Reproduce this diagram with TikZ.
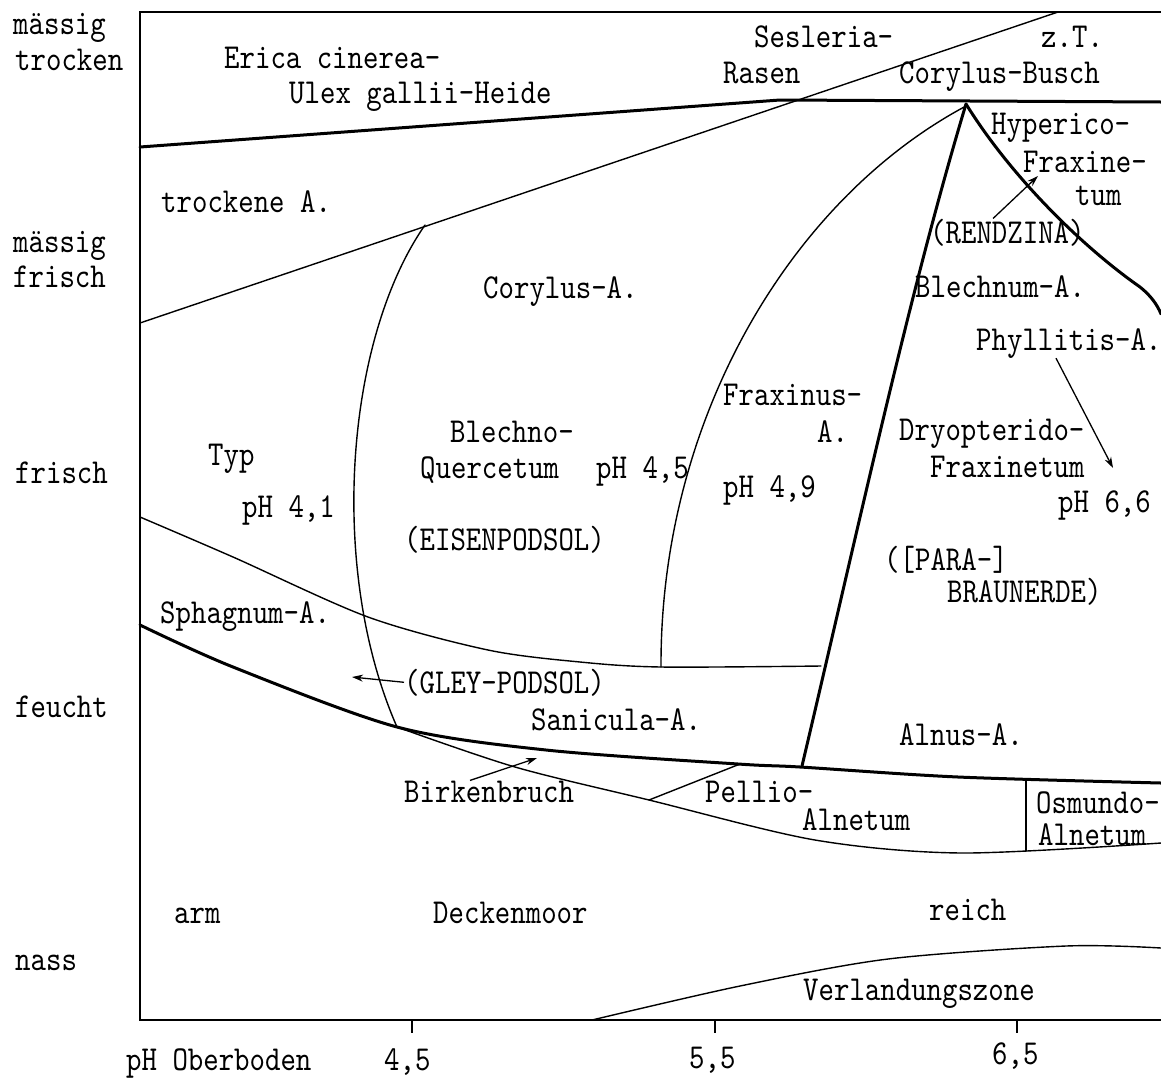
\documentclass[tikz,border=0pt]{standalone}
\usepackage{fontspec}
\newfontfamily\labfont{lmmono10-regular.otf}[FakeStretch=0.84]
\usetikzlibrary{arrows.meta}
\begin{document}
\begin{tikzpicture}[x=1pt,y=-1pt,
  lab/.style={inner sep=0pt,anchor=base west,font=\labfont\fontsize{35}{40}\selectfont},
  frameln/.style={line width=1.5pt},
  thinln/.style={line width=1.4pt,line join=round,line cap=round},
  thickln/.style={line width=3pt,line join=round,line cap=round},
  arr/.style={line width=1.3pt,-{Stealth[length=11pt,width=7pt]}}]
\useasboundingbox (0,0) rectangle (1161,1082);
\fill[white] (0,0) rectangle (1161,1082);

% frame and axis
\draw[frameln] (1161,12) -- (140,12) -- (140,1020) -- (1161,1020);
\draw[frameln] (412,1020) -- (412,1033);
\draw[frameln] (715,1020) -- (715,1033);
\draw[frameln] (1017,1020) -- (1017,1033);

% Erica boundary (thick)
\draw[thickln] (140,147) -- (780,100) -- (1161,102);
% diagonal thin
\draw[thinln] (140,323) -- (1058,12);
% Blechno-Quercetum left boundary
\draw[thinln] (425,225) .. controls (345,340) and (328,570) .. (397,727);
% Fraxinus boundary
\draw[thinln] (966,106) .. controls (790,200) and (660,420) .. (661,667);
% Blechnum boundary (thick)
\draw[thickln] (966,104) .. controls (910,290) and (860,520) .. (802,766);
% Hyperico boundary (thick)
\draw[thickln] (966,104) .. controls (1010,175) and (1080,245) .. (1140,287)
  .. controls (1150,295) and (1157,304) .. (1161,314);
% upper Sphagnum boundary (thin)
\draw[thinln] plot[smooth] coordinates {(140,517) (233,557) (368,617) (488,650) (580,662) (661,667) (821,666)};
% thick lower boundary
\draw[thickln] plot[smooth] coordinates {(140,625) (233,667) (397,727) (546,750) (738,764) (800,767) (958,777) (1161,783)};
% Birkenbruch / Alnetum lower boundary
\draw[thinln] plot[smooth] coordinates {(397,727) (515,767) (649,800) (815,840) (962,853) (1161,843)};
% Pellio divider
\draw[thinln] (649,800) -- (740,764);
% Osmundo divider
\draw[thinln] (1026,781) -- (1026,851);
% Verlandungszone
\draw[thinln] plot[smooth] coordinates {(592,1020) (740,986) (888,959) (1066,946) (1161,948)};

% left labels
\node[lab] (mt1) at (13,34) {mässig};
\node[lab] (mt2) at (15,70) {trocken};
\node[lab] (mf1) at (13,252) {mässig};
\node[lab] (mf2) at (13,287) {frisch};
\node[lab] (fr) at (15,483) {frisch};
\node[lab] (fe) at (15,717) {feucht};
\node[lab] (na) at (15,970) {nass};

% bottom labels
\node[lab] (phob) at (126,1070) {pH Oberboden};
\node[lab] (t45) at (384,1070) {4,5};
\node[lab] (t55) at (689,1068) {5,5};
\node[lab] (t65) at (992,1064) {6,5};

% region labels
\node[lab] (eri1) at (224,68) {Erica cinerea-};
\node[lab] (eri2) at (289,103) {Ulex gallii-Heide};
\node[lab] (ses1) at (754,47) {Sesleria-};
\node[lab] (ses2) at (723,83) {Rasen};
\node[lab] (zt) at (1041,47) {z.T.};
\node[lab] (cb) at (899,83) {Corylus-Busch};
\node[lab] (hyp1) at (991,134) {Hyperico-};
\node[lab] (hyp2) at (1023,172) {Fraxine-};
\node[lab] (hyp3) at (1075,205) {tum};
\node[lab] (rendz) at (930,243) {(RENDZINA)};
\node[lab] (trA) at (161,212) {trockene A.};
\node[lab] (corA) at (483,298) {Corylus-A.};
\node[lab] (blA) at (915,297) {Blechnum-A.};
\node[lab] (phyl) at (976,350) {Phyllitis-A.};
\node[lab] (frx1) at (723,405) {Fraxinus-};
\node[lab] (frx2) at (817,442) {A.};
\node[lab] (blq1) at (450,442) {Blechno-};
\node[lab] (blq2) at (420,478) {Quercetum};
\node[lab] (ph45) at (596,478) {pH 4,5};
\node[lab] (typ) at (208,465) {Typ};
\node[lab] (ph41) at (242,517) {pH 4,1};
\node[lab] (ph49) at (723,497) {pH 4,9};
\node[lab] (dry1) at (899,440) {Dryopterido-};
\node[lab] (dry2) at (930,477) {Fraxinetum};
\node[lab] (ph66) at (1058,512) {pH 6,6};
\node[lab] (eis) at (404,550) {(EISENPODSOL)};
\node[lab] (par1) at (884,570) {([PARA-]};
\node[lab] (par2) at (947,602) {BRAUNERDE)};
\node[lab] (sph) at (160,623) {Sphagnum-A.};
\node[lab] (gley) at (404,693) {(GLEY-PODSOL)};
\node[lab] (san) at (531,730) {Sanicula-A.};
\node[lab] (aln) at (899,745) {Alnus-A.};
\node[lab] (birk) at (404,802) {Birkenbruch};
\node[lab] (pel1) at (705,802) {Pellio-};
\node[lab] (pel2) at (802,830) {Alnetum};
\node[lab] (osm1) at (1036,813) {Osmundo-};
\node[lab] (osm2) at (1038,845) {Alnetum};
\node[lab] (arm) at (174,923) {arm};
\node[lab] (deck) at (433,923) {Deckenmoor};
\node[lab] (reich) at (929,920) {reich};
\node[lab] (verl) at (803,1000) {Verlandungszone};

% arrows
\coordinate (rzTip) at (1038,176);
\coordinate (phTip) at (1113,468);
\coordinate (glTip) at (352,677);
\coordinate (bkTip) at (537,758);
\draw[arr] ([xshift=63pt]rendz.north west) -- (rzTip);
\draw[arr] ([xshift=80pt]phyl.south west) -- (phTip);
\draw[arr] (gley.west) -- (glTip);
\draw[arr] ([xshift=66pt]birk.north west) -- (bkTip);
\end{tikzpicture}
\end{document}
